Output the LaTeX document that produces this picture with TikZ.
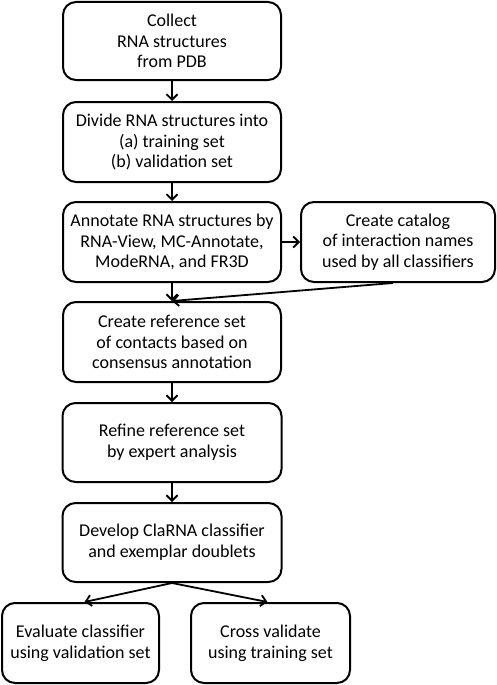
\documentclass[tikz,border=0pt]{standalone}
\usepackage{fontspec}
\setmainfont{Carlito}
\usetikzlibrary{arrows.meta,calc}
\begin{document}
\begin{tikzpicture}[x=1pt,y=-1pt,
  box/.style={draw, line width=2pt, rounded corners=13pt, align=center,
    font=\fontsize{18}{20.7}\selectfont, inner sep=0pt},
  arr/.style={line width=1.8pt, -{Straight Barb[length=5.5pt,width=11pt,line width=1.8pt]}}]
\useasboundingbox (0,0) rectangle (496,685);
\node[box, minimum width=218pt, minimum height=78pt] (b1) at (172,41) {Collect\\RNA structures\\from PDB};
\node[box, minimum width=218pt, minimum height=80pt] (b2) at (172,142) {Divide RNA structures into\\(a) training set\\(b) validation set};
\node[box, minimum width=218pt, minimum height=80pt] (b3) at (172,242) {Annotate RNA structures by\\RNA-View, MC-Annotate,\\ModeRNA, and FR3D};
\node[box, minimum width=194pt, minimum height=80pt] (cat) at (398,242) {Create catalog\\of interaction names\\used by all classifiers};
\node[box, minimum width=218pt, minimum height=80pt] (b4) at (172,342) {Create reference set\\of contacts based on\\consensus annotation};
\node[box, minimum width=219pt, minimum height=79pt] (b5) at (172,442.5) {Refine reference set\\by expert analysis};
\node[box, minimum width=219pt, minimum height=79pt] (b6) at (172,542.5) {Develop ClaRNA classifier\\and exemplar doublets};
\node[box, minimum width=157pt, minimum height=80pt] (b7a) at (80.5,643) {Evaluate classifier\\using validation set};
\node[box, minimum width=159pt, minimum height=80pt] (b7b) at (270.5,643) {Cross validate\\using training set};
\draw[arr] (b1) -- (b2);
\draw[arr] (b2) -- (b3);
\draw[arr] (b3) -- (cat);
\draw[arr] (b3) -- (b4);
\draw[arr] ($(cat.south)+(-5,0)$) -- (b4.north);
\draw[arr] (b4) -- (b5);
\draw[arr] (b5) -- (b6);
\draw[arr] (b6.south) -- ($(b7a.north)+(4,0)$);
\draw[arr] (b6.south) -- ($(b7b.north)+(-3,0)$);
\end{tikzpicture}
\end{document}
